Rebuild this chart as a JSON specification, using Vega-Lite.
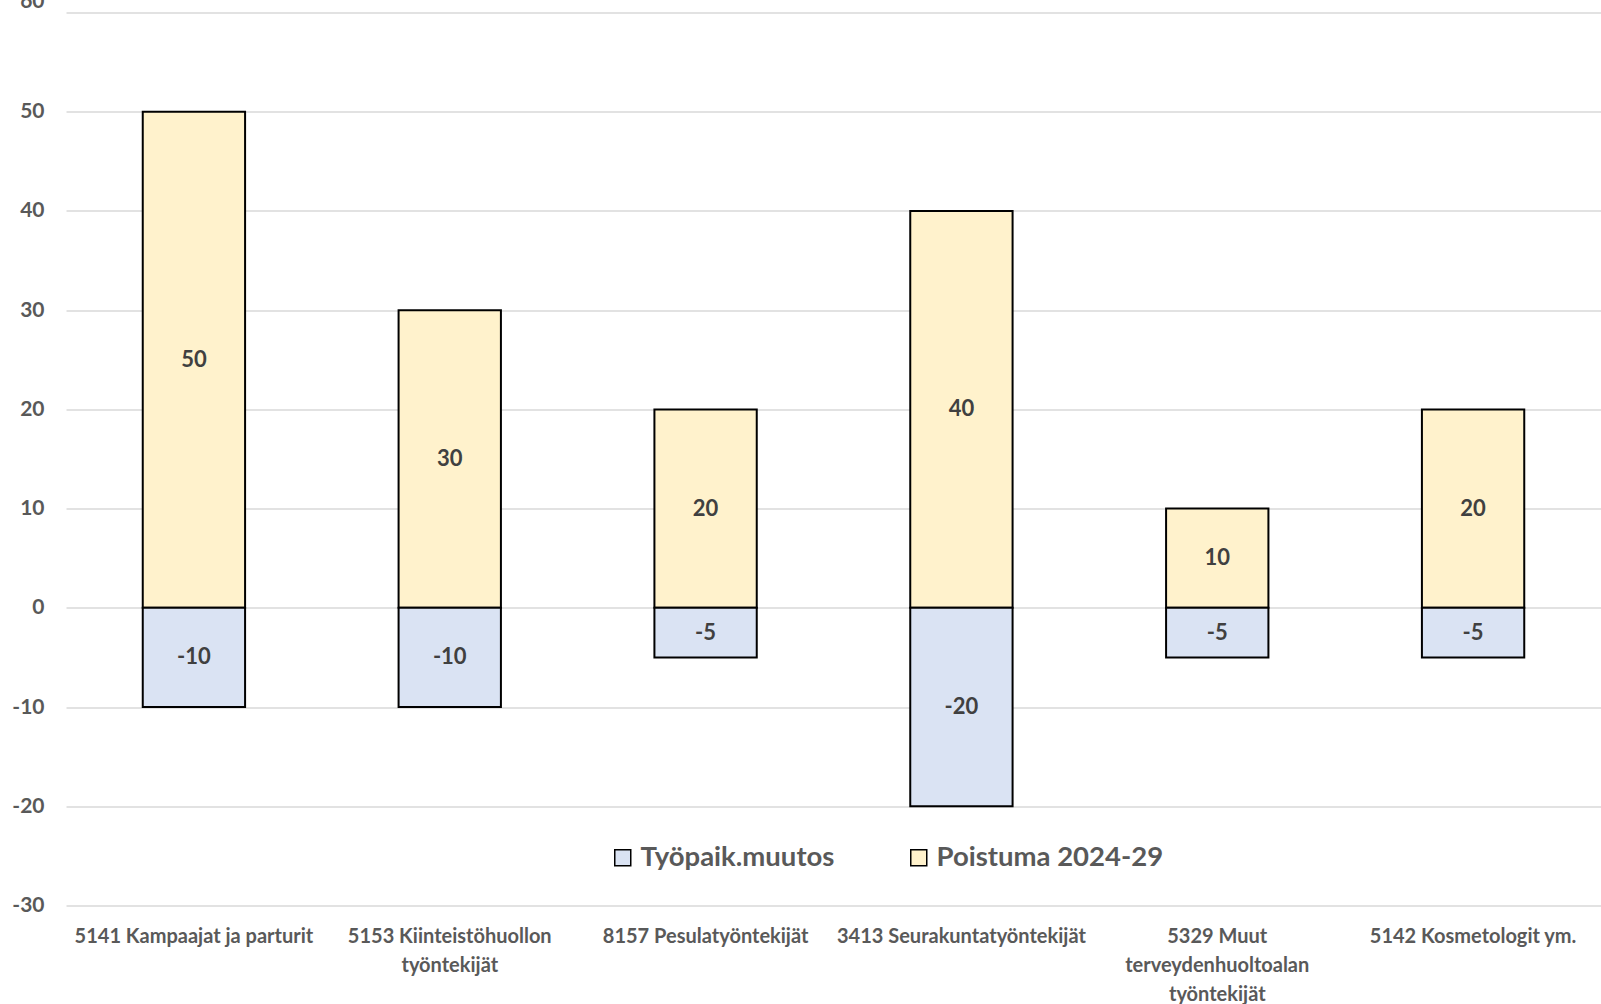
{
  "$schema": "https://vega.github.io/schema/vega-lite/v6.json",
  "autosize": "none",
  "width": 1535,
  "height": 893,
  "padding": {"left": 66, "top": 12.5, "right": 0, "bottom": 98.5},
  "background": "white",
  "config": {
    "view": {"stroke": null},
    "font": "Lato",
    "axis": {"labelFont": "Lato", "labelFontWeight": "bold", "labelColor": "#595959"}
  },
  "data": {
    "values": [
      {"ammatti": "5141 Kampaajat ja parturit", "sarja": "Poistuma 2024-29", "arvo": 50},
      {"ammatti": "5141 Kampaajat ja parturit", "sarja": "Työpaik.muutos", "arvo": -10},
      {"ammatti": "5153 Kiinteistöhuollon|työntekijät", "sarja": "Poistuma 2024-29", "arvo": 30},
      {"ammatti": "5153 Kiinteistöhuollon|työntekijät", "sarja": "Työpaik.muutos", "arvo": -10},
      {"ammatti": "8157 Pesulatyöntekijät", "sarja": "Poistuma 2024-29", "arvo": 20},
      {"ammatti": "8157 Pesulatyöntekijät", "sarja": "Työpaik.muutos", "arvo": -5},
      {"ammatti": "3413 Seurakuntatyöntekijät", "sarja": "Poistuma 2024-29", "arvo": 40},
      {"ammatti": "3413 Seurakuntatyöntekijät", "sarja": "Työpaik.muutos", "arvo": -20},
      {"ammatti": "5329 Muut|terveydenhuoltoalan|työntekijät", "sarja": "Poistuma 2024-29", "arvo": 10},
      {"ammatti": "5329 Muut|terveydenhuoltoalan|työntekijät", "sarja": "Työpaik.muutos", "arvo": -5},
      {"ammatti": "5142 Kosmetologit ym.", "sarja": "Poistuma 2024-29", "arvo": 20},
      {"ammatti": "5142 Kosmetologit ym.", "sarja": "Työpaik.muutos", "arvo": -5}
    ]
  },
  "encoding": {
    "x": {
      "field": "ammatti",
      "type": "nominal",
      "sort": null,
      "title": null,
      "scale": {"paddingInner": 0.6, "paddingOuter": 0.3},
      "axis": {
        "labelAngle": 0,
        "labelExpr": "split(datum.label, '|')",
        "labelFontSize": 20,
        "labelLineHeight": 29,
        "labelPadding": 21,
        "labelLimit": 400,
        "domain": false,
        "ticks": false,
        "grid": false
      }
    }
  },
  "layer": [
    {
      "mark": {"type": "bar", "stroke": "black", "strokeWidth": 2},
      "encoding": {
        "y": {
          "field": "arvo",
          "type": "quantitative",
          "stack": "zero",
          "title": null,
          "scale": {"domain": [-30, 60], "nice": false},
          "axis": {
            "values": [-30, -20, -10, 0, 10, 20, 30, 40, 50, 60],
            "labelExpr": "toString(datum.value)",
            "labelFontSize": 21,
            "labelPadding": 22,
            "labelOffset": {"condition": {"test": "datum.value == 60", "value": -11}, "value": 0},
            "domain": false,
            "ticks": false,
            "gridColor": "#d9d9d9",
            "gridWidth": 1.5
          }
        },
        "color": {
          "field": "sarja",
          "type": "nominal",
          "title": null,
          "scale": {"domain": ["Työpaik.muutos", "Poistuma 2024-29"], "range": ["#DAE3F3", "#FFF2CC"]},
          "legend": {
            "orient": "none",
            "direction": "horizontal",
            "legendX": 543,
            "legendY": 831,
            "symbolType": "square",
            "symbolSize": 256,
            "symbolStrokeColor": "black",
            "symbolStrokeWidth": 1.5,
            "symbolOpacity": 1,
            "labelFont": "Lato",
            "labelFontSize": 27.5,
            "labelFontWeight": "bold",
            "labelColor": "#595959",
            "labelOffset": 4,
            "columnPadding": 70,
            "labelLimit": 400
          }
        }
      }
    },
    {
      "transform": [{"calculate": "datum.arvo / 2", "as": "keski"}],
      "mark": {"type": "text", "font": "Lato", "fontWeight": "bold", "fontSize": 22, "color": "#404040", "baseline": "middle"},
      "encoding": {
        "y": {"field": "keski", "type": "quantitative"},
        "text": {"field": "arvo", "type": "nominal"}
      }
    }
  ]
}
